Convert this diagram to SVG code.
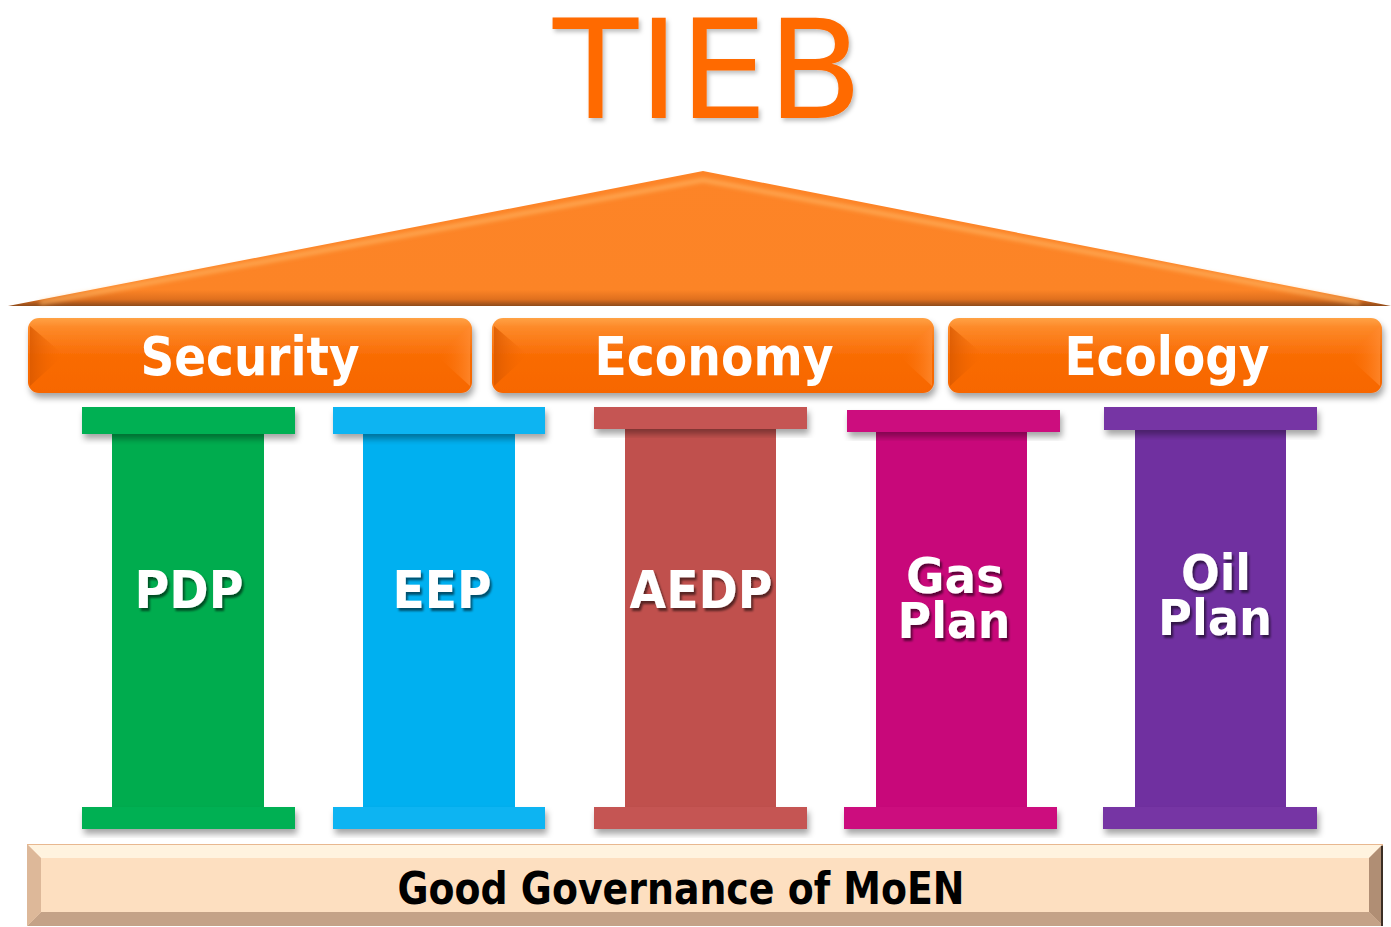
<svg xmlns="http://www.w3.org/2000/svg" width="1391" height="927" viewBox="0 0 1391 927">
  <style>
    .hdr { font-family: "DejaVu Sans Condensed", "DejaVu Sans", sans-serif; font-weight: bold; font-size: 54px; fill: #ffffff; text-anchor: middle; }
    .lbl { font-family: "DejaVu Sans Condensed", "DejaVu Sans", sans-serif; font-weight: bold; font-size: 52px; fill: #ffffff; text-anchor: middle; }
    .lbl2 { font-family: "DejaVu Sans Condensed", "DejaVu Sans", sans-serif; font-weight: bold; font-size: 49px; fill: #ffffff; text-anchor: middle; }
    .base-txt { font-family: "DejaVu Sans Condensed", "DejaVu Sans", sans-serif; font-weight: bold; font-size: 45px; fill: #000000; text-anchor: middle; }
    .title { font-family: "DejaVu Sans", sans-serif; font-size: 138px; fill: #FF6A00; text-anchor: middle; }
  </style>
  <defs>
    <linearGradient id="roofGrad" x1="0" y1="0" x2="0" y2="1">
      <stop offset="0" stop-color="#FD8427"/>
      <stop offset="0.88" stop-color="#FC8426"/>
      <stop offset="0.95" stop-color="#E0701E"/>
      <stop offset="1" stop-color="#8E4A1A"/>
    </linearGradient>
    <linearGradient id="hdrGrad" x1="0" y1="0" x2="0" y2="1">
      <stop offset="0" stop-color="#FFA245"/>
      <stop offset="0.12" stop-color="#FD8A2A"/>
      <stop offset="0.5" stop-color="#F96C04"/>
      <stop offset="1" stop-color="#F76600"/>
    </linearGradient>
    <linearGradient id="bevL" x1="0" y1="0" x2="1" y2="0">
      <stop offset="0" stop-color="#D85800" stop-opacity="0.8"/>
      <stop offset="1" stop-color="#F96A00" stop-opacity="0"/>
    </linearGradient>
    <linearGradient id="bevR" x1="1" y1="0" x2="0" y2="0">
      <stop offset="0" stop-color="#FF8A30" stop-opacity="0.8"/>
      <stop offset="1" stop-color="#F96A00" stop-opacity="0"/>
    </linearGradient>
    <filter id="shadow" x="-10%" y="-30%" width="120%" height="170%">
      <feDropShadow dx="2" dy="5" stdDeviation="3" flood-color="#000" flood-opacity="0.35"/>
    </filter>
    <filter id="txtShadow" x="-10%" y="-20%" width="130%" height="150%">
      <feDropShadow dx="2" dy="3" stdDeviation="1.2" flood-color="#000" flood-opacity="0.55"/>
    </filter>
    <filter id="softShadow" x="-5%" y="-20%" width="110%" height="150%">
      <feDropShadow dx="2" dy="3" stdDeviation="2" flood-color="#000" flood-opacity="0.25"/>
    </filter>
    <filter id="glow" x="-5%" y="-50%" width="110%" height="200%">
      <feGaussianBlur stdDeviation="2"/>
    </filter>
  </defs>

  <!-- Title -->
  <g id="title">
    <text class="title" x="708" y="118" textLength="310" lengthAdjust="spacingAndGlyphs" filter="url(#softShadow)">TIEB</text>
  </g>

  <!-- Roof -->
  <g id="roof">
    <polygon points="8,306 703,171 1391,306" fill="url(#roofGrad)"/>
    <polyline points="40,303 703,180 1360,303" fill="none" stroke="#FFB867" stroke-width="4" stroke-opacity="0.75" filter="url(#glow)"/>
  </g>

  <!-- Pillar headers -->
  <g id="security">
    <rect x="28" y="318" width="444" height="75" rx="11" fill="url(#hdrGrad)" filter="url(#shadow)"/>
    <polygon points="30,326 64,355 30,386" fill="url(#bevL)"/>
    <polygon points="470,326 436,355 470,386" fill="url(#bevR)"/>
    <text class="hdr" x="250" y="375" textLength="219" lengthAdjust="spacingAndGlyphs">Security</text>
  </g>
  <g id="economy">
    <rect x="492" y="318" width="442" height="75" rx="11" fill="url(#hdrGrad)" filter="url(#shadow)"/>
    <polygon points="494,326 528,355 494,386" fill="url(#bevL)"/>
    <polygon points="932,326 898,355 932,386" fill="url(#bevR)"/>
    <text class="hdr" x="714" y="375" textLength="239" lengthAdjust="spacingAndGlyphs">Economy</text>
  </g>
  <g id="ecology">
    <rect x="948" y="318" width="434" height="75" rx="11" fill="url(#hdrGrad)" filter="url(#shadow)"/>
    <polygon points="950,326 984,355 950,386" fill="url(#bevL)"/>
    <polygon points="1380,326 1346,355 1380,386" fill="url(#bevR)"/>
    <text class="hdr" x="1167" y="375" textLength="205" lengthAdjust="spacingAndGlyphs">Ecology</text>
  </g>

  <!-- Pillars -->
  <g id="pdp">
    <rect x="112" y="430" width="152" height="380" fill="#00AC4E"/>
    <rect x="82" y="407" width="213" height="27" fill="#05B052" filter="url(#shadow)"/>
    <rect x="82" y="807" width="213" height="22" fill="#05B052" filter="url(#shadow)"/>
    <text class="lbl" x="189" y="608" textLength="109" lengthAdjust="spacingAndGlyphs" filter="url(#txtShadow)">PDP</text>
  </g>
  <g id="eep">
    <rect x="363" y="430" width="152" height="380" fill="#00B0F0"/>
    <rect x="333" y="407" width="212" height="27" fill="#07B4F2" filter="url(#shadow)"/>
    <rect x="333" y="807" width="212" height="22" fill="#07B4F2" filter="url(#shadow)"/>
    <text class="lbl" x="442" y="608" textLength="99" lengthAdjust="spacingAndGlyphs" filter="url(#txtShadow)">EEP</text>
  </g>
  <g id="aedp">
    <rect x="625" y="426" width="151" height="384" fill="#C0504D"/>
    <rect x="594" y="407" width="213" height="22" fill="#C55552" filter="url(#shadow)"/>
    <rect x="594" y="807" width="213" height="22" fill="#C55552" filter="url(#shadow)"/>
    <text class="lbl" x="701" y="608" textLength="143" lengthAdjust="spacingAndGlyphs" filter="url(#txtShadow)">AEDP</text>
  </g>
  <g id="gas-plan">
    <rect x="876" y="429" width="151" height="381" fill="#C8087A"/>
    <rect x="847" y="410" width="213" height="22" fill="#CC0F7E" filter="url(#shadow)"/>
    <rect x="844" y="807" width="213" height="22" fill="#CC0F7E" filter="url(#shadow)"/>
    <g filter="url(#txtShadow)">
      <text class="lbl2" x="955" y="593" textLength="98" lengthAdjust="spacingAndGlyphs">Gas</text>
      <text class="lbl2" x="954" y="638" textLength="113" lengthAdjust="spacingAndGlyphs">Plan</text>
    </g>
  </g>
  <g id="oil-plan">
    <rect x="1135" y="426" width="151" height="384" fill="#7030A0"/>
    <rect x="1104" y="407" width="213" height="23" fill="#7634A4" filter="url(#shadow)"/>
    <rect x="1103" y="807" width="214" height="22" fill="#7634A4" filter="url(#shadow)"/>
    <g filter="url(#txtShadow)">
      <text class="lbl2" x="1216" y="590" textLength="70" lengthAdjust="spacingAndGlyphs">Oil</text>
      <text class="lbl2" x="1215" y="635" textLength="114" lengthAdjust="spacingAndGlyphs">Plan</text>
    </g>
  </g>

  <!-- Foundation -->
  <g id="foundation">
    <rect x="27" y="844" width="1356" height="82" fill="#FDDFC0"/>
    <polygon points="27,844 1383,844 1369,858 41,858" fill="#FFF3DF"/>
    <polygon points="27,926 1383,926 1369,912 41,912" fill="#C4A287"/>
    <polygon points="27,844 41,858 41,912 27,926" fill="#DDB899"/>
    <polygon points="1383,844 1369,858 1369,912 1383,926" fill="#B08E74"/>
    <line x1="1382" y1="846" x2="1382" y2="926" stroke="#3C2E24" stroke-width="2"/>
    <line x1="27" y1="844.5" x2="1383" y2="844.5" stroke="#E8B890" stroke-width="1"/>
    <text class="base-txt" x="681" y="904" textLength="567" lengthAdjust="spacingAndGlyphs">Good Governance of MoEN</text>
  </g>
</svg>
